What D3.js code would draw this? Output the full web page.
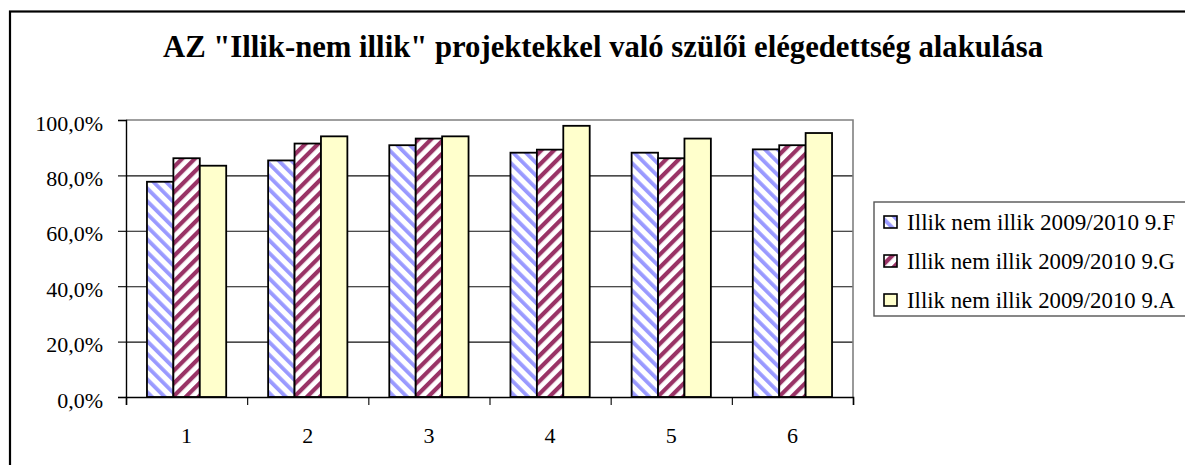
<!DOCTYPE html>
<html>
<head>
<meta charset="utf-8">
<script src="https://cdn.jsdelivr.net/npm/d3@7/dist/d3.min.js"></script>
<style>
  html, body { margin: 0; padding: 0; background: #fff; }
  svg { display: block; }
  text { font-family: "Liberation Serif", "Times New Roman", serif; fill: #000; }
</style>
</head>
<body>
<svg id="chart" width="1185" height="465"></svg>
<script>
// ---- data ----
const titleText = 'AZ "Illik-nem illik" projektekkel való szülői elégedettség alakulása';
const categories = ["1", "2", "3", "4", "5", "6"];
const seriesNames = [
  "Illik nem illik 2009/2010 9.F",
  "Illik nem illik 2009/2010 9.G",
  "Illik nem illik 2009/2010 9.A"
];
const valuesF = [0.777, 0.854, 0.909, 0.882, 0.882, 0.894];
const valuesG = [0.862, 0.915, 0.933, 0.893, 0.862, 0.909];
const valuesA = [0.835, 0.941, 0.941, 0.979, 0.933, 0.953];
const yTicks = [0, 0.2, 0.4, 0.6, 0.8, 1.0];

const seriesValues = [valuesF, valuesG, valuesA];

// ---- layout ----
const svg = d3.select("#chart");
const plot = { left: 126, right: 853, top: 120, bottom: 397 };

const huLocale = d3.formatLocale({ decimal: ",", thousands: " ", grouping: [3], currency: ["", " Ft"] });
const pct = huLocale.format(".1%");

const y = d3.scaleLinear().domain([0, 1]).range([plot.bottom, plot.top]);
const x0 = d3.scaleBand().domain(categories).range([plot.left, plot.right])
  .paddingInner(0.346).paddingOuter(0.173);
const x1 = d3.scaleBand().domain(d3.range(seriesNames.length)).range([0, x0.bandwidth()]);
const xEdges = d3.scaleLinear().domain([0, categories.length]).range([plot.left, plot.right]);

// ---- patterns ----
const defs = svg.append("defs");
function stripePattern(id, color, angle, period, stripeW) {
  const p = defs.append("pattern")
    .attr("id", id)
    .attr("patternUnits", "userSpaceOnUse")
    .attr("width", period).attr("height", period)
    .attr("patternTransform", `rotate(${angle})`);
  p.append("rect").attr("width", period).attr("height", period).attr("fill", "#fff");
  p.append("rect").attr("x", 0).attr("y", 0).attr("width", stripeW).attr("height", period).attr("fill", color);
}
stripePattern("patF", "#9999FF", -45, 9, 3.8);
stripePattern("patG", "#993366", 45, 9, 4.2);
const fills = ["url(#patF)", "url(#patG)", "#FFFFCC"];

// ---- outer frame ----
svg.append("rect").attr("x", 10).attr("y", 11.5).attr("width", 1200).attr("height", 500)
  .attr("fill", "#fff").attr("stroke", "#000").attr("stroke-width", 2.2);

// ---- title ----
svg.append("text")
  .attr("x", 603).attr("y", 57)
  .attr("text-anchor", "middle")
  .attr("font-weight", "bold")
  .attr("font-size", 31)
  .attr("textLength", 880)
  .attr("lengthAdjust", "spacingAndGlyphs")
  .text(titleText);

// ---- gridlines ----
const grid = svg.append("g").attr("transform", `translate(${plot.left},0)`)
  .call(d3.axisLeft(y).tickValues(yTicks.slice(1, -1)).tickSize(-(plot.right - plot.left)).tickFormat(""));
grid.select(".domain").remove();
grid.selectAll(".tick line").attr("stroke", "#111").attr("stroke-width", 1.1);

// plot area border (top & right)
svg.append("path")
  .attr("d", `M${plot.left},${y(1)}H${plot.right}V${plot.bottom}`)
  .attr("fill", "none").attr("stroke", "#808080").attr("stroke-width", 1.6);

// ---- bars ----
const groups = svg.append("g").selectAll("g")
  .data(categories)
  .join("g")
  .attr("transform", d => `translate(${x0(d)},0)`);

groups.selectAll("rect")
  .data((d, i) => seriesValues.map((vals, s) => ({ s, v: vals[i] })))
  .join("rect")
  .attr("x", d => x1(d.s))
  .attr("y", d => y(d.v))
  .attr("width", x1.bandwidth())
  .attr("height", d => y(0) - y(d.v))
  .attr("fill", d => fills[d.s])
  .attr("stroke", "#000")
  .attr("stroke-width", 1.8);

// ---- y axis ----
const yAxis = svg.append("g").attr("transform", `translate(${plot.left},0)`)
  .call(d3.axisLeft(y).tickValues(yTicks).tickSize(8).tickPadding(15).tickFormat(pct));
yAxis.select(".domain").attr("stroke", "#000").attr("stroke-width", 1.4);
yAxis.selectAll(".tick line").attr("stroke", "#000").attr("stroke-width", 1.1);
yAxis.selectAll(".tick text")
  .attr("font-size", 22)
  .attr("font-family", '"Liberation Serif", "Times New Roman", serif')
  .attr("dy", "0.46em");

// ---- x axis ----
const xTicksAxis = svg.append("g").attr("transform", `translate(0,${plot.bottom})`)
  .call(d3.axisBottom(xEdges).ticks(categories.length).tickSize(8).tickFormat(""));
xTicksAxis.select(".domain").attr("stroke", "#000").attr("stroke-width", 1.6);
xTicksAxis.selectAll(".tick line").attr("stroke", "#000").attr("stroke-width", 1.1);

const xLabels = svg.append("g").attr("transform", `translate(0,${plot.bottom})`)
  .call(d3.axisBottom(x0).tickSize(0).tickPadding(30));
xLabels.select(".domain").remove();
xLabels.selectAll(".tick text")
  .attr("font-size", 22)
  .attr("font-family", '"Liberation Serif", "Times New Roman", serif');

// ---- legend ----
const legend = svg.append("g");
legend.append("rect")
  .attr("x", 874).attr("y", 202).attr("width", 330).attr("height", 114)
  .attr("fill", "#fff").attr("stroke", "#555").attr("stroke-width", 1.4);
const rowY = [222, 261, 300];
const items = legend.selectAll("g.item").data(seriesNames).join("g").attr("class", "item")
  .attr("transform", (d, i) => `translate(884,${rowY[i]})`);
items.append("rect")
  .attr("x", 0).attr("y", -6).attr("width", 13).attr("height", 12)
  .attr("fill", (d, i) => fills[i]).attr("stroke", "#000").attr("stroke-width", 1.6);
items.append("text")
  .attr("x", 23).attr("y", 0).attr("dy", "0.35em")
  .attr("font-size", 23)
  .attr("textLength", 268)
  .attr("lengthAdjust", "spacingAndGlyphs")
  .text(d => d);
</script>
</body>
</html>
